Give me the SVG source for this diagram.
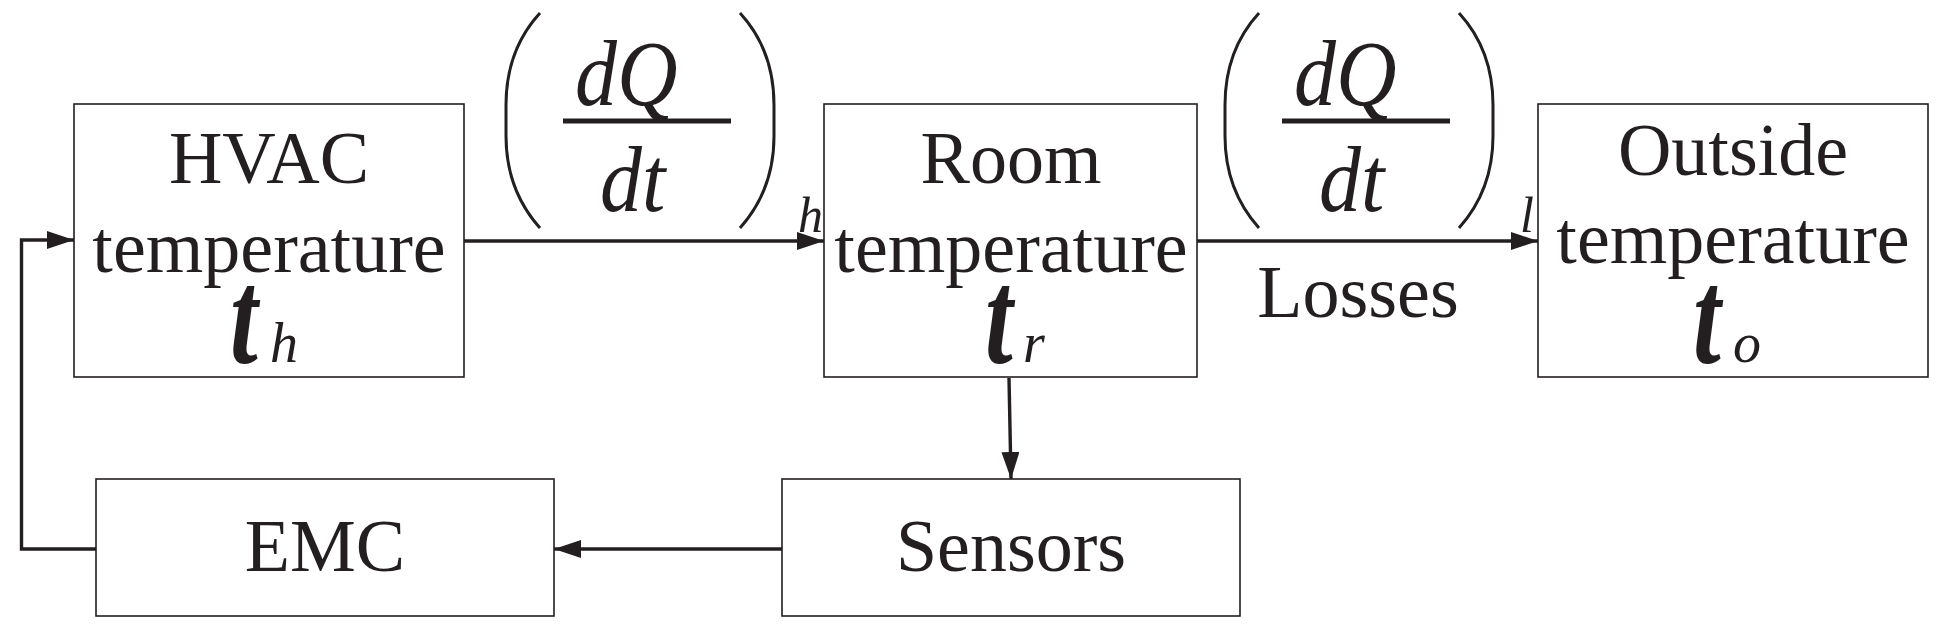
<svg xmlns="http://www.w3.org/2000/svg" width="1946" height="636" viewBox="0 0 1946 636">
<defs>
<style>
.box{fill:#fff;stroke:#231f20;stroke-width:1.6}
.txt{font-family:"Liberation Serif","Times New Roman",serif;font-size:74px;fill:#231f20;text-anchor:middle}
.var{font-family:"Liberation Serif","Times New Roman",serif;font-size:100px;font-weight:bold;font-style:italic;fill:#231f20}
.sub{font-family:"Liberation Serif","Times New Roman",serif;font-size:56px;font-style:italic;fill:#231f20}
.frac{font-family:"Liberation Serif","Times New Roman",serif;font-size:84px;font-style:italic;fill:#231f20}
.lbl{font-family:"Liberation Serif","Times New Roman",serif;font-size:50px;font-style:italic;fill:#231f20}
.conn{fill:none;stroke:#231f20;stroke-width:3.4}
.paren{fill:none;stroke:#231f20;stroke-width:3}
.bar{stroke:#231f20;stroke-width:5}
</style>
<marker id="arr" markerUnits="userSpaceOnUse" markerWidth="28" markerHeight="18" refX="27" refY="9" orient="auto">
<path d="M0,0 L27,9 L0,18 z" fill="#231f20"/>
</marker>
</defs>
<rect width="1946" height="636" fill="#fff"/>

<g id="connectors">
<path class="conn" d="M96,549 L21.5,549 L21.5,240 L74,240" marker-end="url(#arr)"/>
<path class="conn" d="M464,241 L824,241" marker-end="url(#arr)"/>
<path class="conn" d="M1197,241 L1538,241" marker-end="url(#arr)"/>
<path class="conn" d="M1009,378 L1011,479" marker-end="url(#arr)"/>
<path class="conn" d="M782,549 L554,549" marker-end="url(#arr)"/>
<text class="lbl" x="798" y="232">h</text>
<text class="lbl" x="1520" y="232">l</text>
<text class="txt" x="1358" y="317">Losses</text>
</g>

<g id="flow-heat">
<path class="paren" d="M540,13 Q506,50 506,105 L506,136 Q506,190 540,228"/>
<path class="paren" d="M740,13 Q774,50 774,105 L774,136 Q774,190 740,228"/>
<line class="bar" x1="563" y1="121" x2="731" y2="121"/>
<text class="frac" transform="translate(575,105) scale(1,1.12)">dQ</text>
<text class="frac" transform="translate(600,211) scale(1,1.12)">dt</text>
</g>

<g id="flow-loss">
<path class="paren" d="M1259,13 Q1225,50 1225,105 L1225,136 Q1225,190 1259,228"/>
<path class="paren" d="M1459,13 Q1493,50 1493,105 L1493,136 Q1493,190 1459,228"/>
<line class="bar" x1="1282" y1="121" x2="1450" y2="121"/>
<text class="frac" transform="translate(1294,105) scale(1,1.12)">dQ</text>
<text class="frac" transform="translate(1319,211) scale(1,1.12)">dt</text>
</g>

<g id="hvac">
<rect class="box" x="74" y="104" width="390" height="273"/>
<text class="txt" x="269" y="183">HVAC</text>
<text class="txt" x="269" y="272">temperature</text>
<text class="var" transform="translate(230,362) scale(1,1.35)">t</text>
<text class="sub" x="270" y="362">h</text>
</g>

<g id="room">
<rect class="box" x="824" y="104" width="373" height="273"/>
<text class="txt" x="1011" y="183">Room</text>
<text class="txt" x="1011" y="272">temperature</text>
<text class="var" transform="translate(985,362) scale(1,1.35)">t</text>
<text class="sub" x="1023" y="362">r</text>
</g>

<g id="outside">
<rect class="box" x="1538" y="104" width="390" height="273"/>
<text class="txt" x="1733" y="175">Outside</text>
<text class="txt" x="1733" y="263">temperature</text>
<text class="var" transform="translate(1693,362) scale(1,1.35)">t</text>
<text class="sub" x="1733" y="362">o</text>
</g>

<g id="sensors">
<rect class="box" x="782" y="479" width="458" height="137"/>
<text class="txt" x="1011" y="571">Sensors</text>
</g>

<g id="emc">
<rect class="box" x="96" y="479" width="458" height="137"/>
<text class="txt" x="325" y="571">EMC</text>
</g>
</svg>
